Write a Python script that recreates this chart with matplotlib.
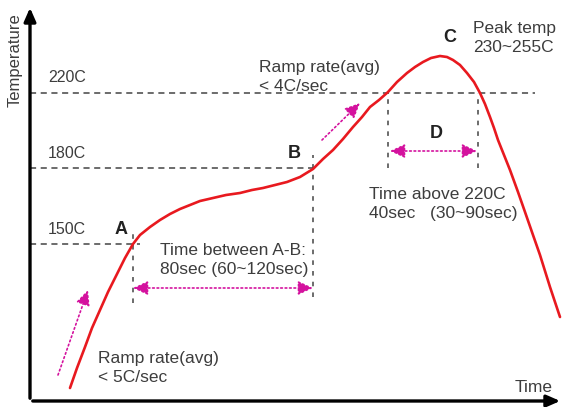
import matplotlib
matplotlib.use("Agg")
import matplotlib.pyplot as plt

plt.rcParams['font.family'] = ['Liberation Sans', 'DejaVu Sans']

# schematic reflow profile (time units, height units above the time axis)
profile_t = [40, 47, 55, 62, 70, 78, 87, 95, 103, 110, 120, 130, 140, 150, 160, 170,
             183, 196, 210, 222, 233, 245, 257, 270, 283, 293, 303, 313, 323, 332,
             340, 349, 358, 367, 377, 385, 393, 401, 410, 417, 423, 430, 437, 444,
             450, 455, 460, 464, 468, 474, 480, 488, 495, 503, 510, 520, 530]
profile_h = [13, 33, 54, 73, 91, 109, 127, 143, 157, 166, 174, 181, 187, 192, 196, 200,
             203, 206, 208, 211, 213, 216, 219, 224, 232, 242, 251, 262, 274, 284,
             294, 301, 309, 319, 328, 334, 339, 343, 345, 344, 341, 336, 328, 319,
             308, 297, 284, 273, 261, 246, 231, 209, 189, 166, 146, 114, 84]

level_names = ['150C', '180C', '220C']
level_h = [157, 233, 308]
level_end = [110, 283, 505]

# points A, B and the two 220C crossings
mark_t = [103, 283, 358, 448]
mark_lo = [98, 104, 233, 233]
mark_hi = [169, 246, 308, 308]

red = '#e8191f'
mag = '#d4129e'
grey = '#3d3d3d'

fig = plt.figure(figsize=(5.65, 4.07), dpi=100)
ax = fig.add_axes([0, 0, 1, 1])
ax.set_xlim(-30, 535)
ax.set_ylim(-6, 401)
ax.axis('off')

# axes with arrows
ax.annotate('', xy=(0, 396), xytext=(0, 0),
            arrowprops=dict(arrowstyle='-|>,head_length=0.8,head_width=0.35', color='black', lw=2.4))
ax.annotate('', xy=(533, 0), xytext=(0, 0),
            arrowprops=dict(arrowstyle='-|>,head_length=0.8,head_width=0.35', color='black', lw=2.4))
ax.text(-15, 341, 'Temperature', rotation=90, ha='center', va='center', fontsize=12, color=grey)
ax.text(485, 14, 'Time', ha='left', va='center', fontsize=12.5, color=grey)

# temperature levels
for name, h, end in zip(level_names, level_h, level_end):
    ax.plot([0, end], [h, h], color='#444444', lw=1.1, dashes=(4, 3))
    ax.text(18, h + 15, name, ha='left', va='center', fontsize=11.5, color=grey)

for t, lo, hi in zip(mark_t, mark_lo, mark_hi):
    ax.plot([t, t], [lo, hi], color='#444444', lw=1.1, dashes=(3, 4))

ax.plot(profile_t, profile_h, color=red, lw=1.9, solid_capstyle='round', solid_joinstyle='round')

# magenta arrows
arr2 = dict(arrowstyle='<|-|>,head_length=0.9,head_width=0.42', color=mag, lw=1.2, ls=':',
            shrinkA=0, shrinkB=0)
arr1 = dict(arrowstyle='-|>,head_length=0.9,head_width=0.42', color=mag, lw=1.2, ls=':',
            shrinkA=0, shrinkB=0)
ax.annotate('', xy=(283, 113), xytext=(103, 113), arrowprops=arr2)
ax.annotate('', xy=(447, 250), xytext=(360, 250), arrowprops=arr2)
ax.annotate('', xy=(58, 111), xytext=(28, 26), arrowprops=arr1)
ax.annotate('', xy=(330, 298), xytext=(292, 261), arrowprops=arr1)

# point letters
for s, t, h in [('A', 85, 172), ('B', 258, 248), ('C', 413, 364), ('D', 400, 268)]:
    ax.text(t, h, s, ha='left', va='center', fontsize=13, fontweight='bold', color='#222222')

notes = [
    ('Peak temp\n230~255C', 443, 363),
    ('Ramp rate(avg)\n< 4C/sec', 229, 324),
    ('Time between A-B:\n80sec (60~120sec)', 130, 141),
    ('Time above 220C\n40sec   (30~90sec)', 339, 197),
    ('Ramp rate(avg)\n< 5C/sec', 68, 33),
]
for s, t, h in notes:
    ax.text(t, h, s, ha='left', va='center', fontsize=12.5, color=grey, linespacing=1.3)

fig.savefig('out.png', dpi=100)
